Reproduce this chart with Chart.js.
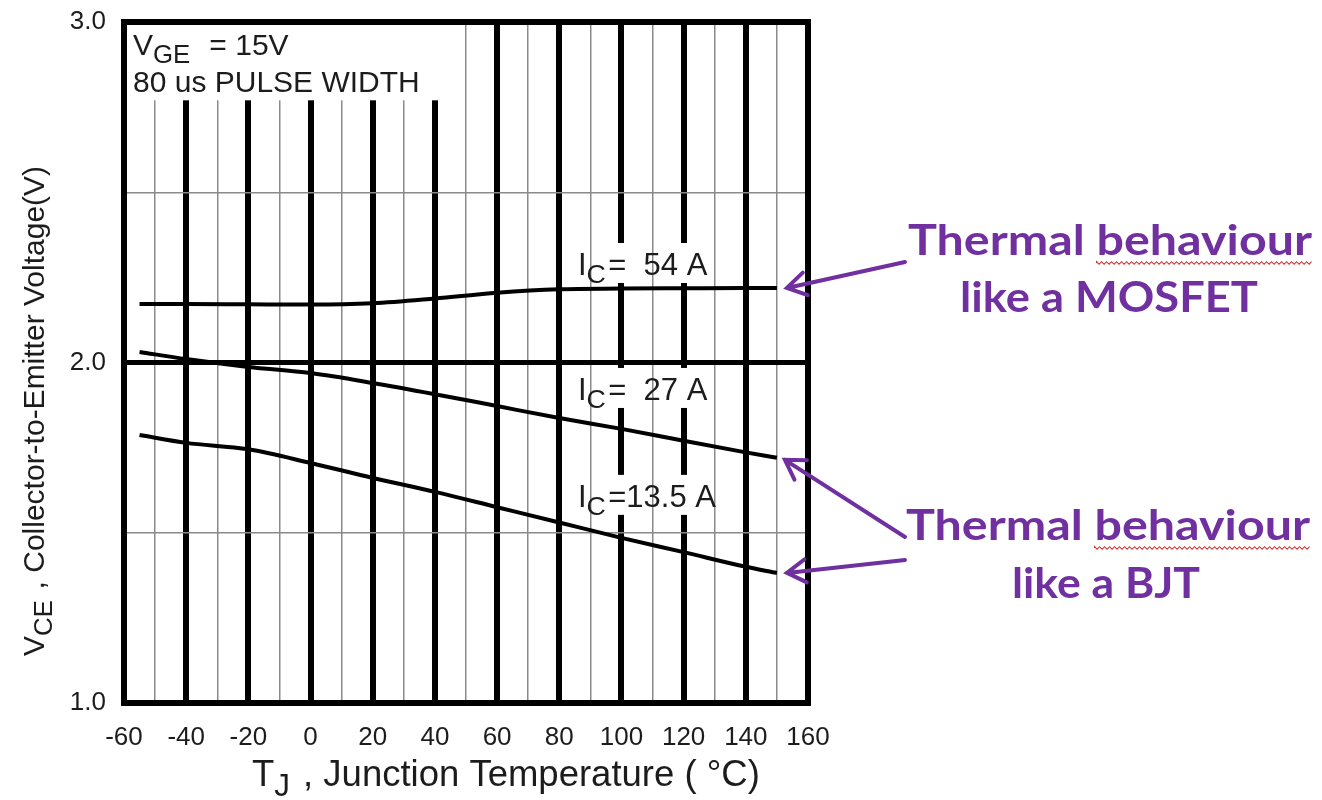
<!DOCTYPE html>
<html>
<head>
<meta charset="utf-8">
<script src="https://cdn.jsdelivr.net/npm/chart.js@4.4.1/dist/chart.umd.min.js"></script>
<style>
	html, body { margin: 0; padding: 0; background: #fff; }
	#wrap { width: 1322px; height: 800px; }
</style>
</head>
<body>
<div id="wrap"><canvas id="vce-chart" width="1322" height="800"></canvas></div>
<script>
// Junction temperature (°C) at which the curves were read
const temps = [ -55, -40, -20, 0, 20, 40, 60, 80, 100, 120, 140, 150 ];

// VCE (V) for each collector current
const vce54A = [ 2.172, 2.172, 2.171, 2.170, 2.174, 2.188, 2.205, 2.215, 2.217, 2.218, 2.219, 2.219 ];
const vce27A = [ 2.031, 2.010, 1.987, 1.969, 1.940, 1.907, 1.872, 1.837, 1.805, 1.770, 1.736, 1.720 ];
const vce13A = [ 1.787, 1.764, 1.745, 1.705, 1.661, 1.620, 1.575, 1.530, 1.485, 1.443, 1.400, 1.382 ];

const seriesNames = [ 'IC = 54 A', 'IC = 27 A', 'IC = 13.5 A' ];
const curveTexts = [ '=  54 A', '=  27 A', '=13.5 A' ];

// axis ranges / tick labels
const xRange = [ -60, 160 ];
const yRange = [ 1.0, 3.0 ];
const xLabelStep = 20;
const yLabelStep = 1;

const sans = '"Liberation Sans", Arial, Helvetica, sans-serif';
const purple = '#7030a0';
const ink = '#1c1c1c';

// ── helpers ──────────────────────────────────────────────

const toPoints = ( values ) => temps.map( ( t, i ) => ( { x: t, y: values[ i ] } ) );

// text with a subscript part: parts = [ { t, sub } ]
const drawRich = ( ctx, parts, x, y, size ) => {
	let cx = x;
	parts.forEach( ( p ) => {
		const s = p.sub ? size * 0.86 : size;
		ctx.font = `${ s }px ${ sans }`;
		ctx.fillText( p.t, cx, y + ( p.sub ? size * 0.27 : 0 ) );
		cx += ctx.measureText( p.t ).width + ( p.sub ? size * 0.08 : 0 );
	} );
	return cx - x;
};

const arrow = ( ctx, x0, y0, x1, y1 ) => {
	const ang = Math.atan2( y1 - y0, x1 - x0 );
	const head = 22;
	ctx.beginPath();
	ctx.moveTo( x0, y0 );
	ctx.lineTo( x1, y1 );
	ctx.moveTo( x1 - head * Math.cos( ang - 0.55 ), y1 - head * Math.sin( ang - 0.55 ) );
	ctx.lineTo( x1, y1 );
	ctx.lineTo( x1 - head * Math.cos( ang + 0.55 ), y1 - head * Math.sin( ang + 0.55 ) );
	ctx.stroke();
};

const wavy = ( ctx, x0, x1, y ) => {
	ctx.beginPath();
	ctx.moveTo( x0, y );
	let up = true;
	for ( let px = x0; px <= x1; px += 2.5 ) {
		ctx.lineTo( px, y + ( up ? -1.3 : 1.3 ) );
		up = ! up;
	}
	ctx.stroke();
};

// ── annotations plugin ───────────────────────────────────

const labelV = [ 2.257, 1.890, 1.576 ];

const annotate = {
	id: 'annotate',
	beforeDatasetsDraw( chart ) {
		const { ctx, chartArea: a, scales: { x, y } } = chart;
		ctx.save();
		ctx.fillStyle = '#fff';

		// box behind the test conditions
		const bx = x.getPixelForValue( 44 );
		const by = y.getPixelForValue( 2.77 );
		ctx.fillRect( a.left + 3, a.top + 3, bx - a.left - 3, by - a.top - 3 );

		// breaks in the heavy lines behind the curve labels
		labelV.forEach( ( v ) => {
			const base = y.getPixelForValue( v );
			[ 100, 120 ].forEach( ( t ) => {
				const px = x.getPixelForValue( t );
				ctx.fillRect( px - 5, base - 32, 10, 40 );
			} );
		} );

		ctx.lineWidth = 6;
		ctx.strokeStyle = '#000';
		ctx.strokeRect( a.left, a.top, a.width, a.height );
		ctx.restore();
	},
	afterDraw( chart ) {
		const { ctx, scales: { x, y } } = chart;
		ctx.save();
		ctx.fillStyle = ink;
		ctx.textBaseline = 'alphabetic';
		ctx.textAlign = 'left';

		// test conditions
		drawRich( ctx, [ { t: 'V' }, { t: 'GE', sub: true }, { t: '  = 15V' } ], 133, 55, 30 );
		ctx.font = `30px ${ sans }`;
		ctx.fillText( '80 us PULSE WIDTH', 133, 92 );

		// curve labels
		labelV.forEach( ( v, i ) => {
			drawRich( ctx, [ { t: 'I' }, { t: 'C', sub: true }, { t: curveTexts[ i ] } ],
				x.getPixelForValue( 86 ), y.getPixelForValue( v ), 31 );
		} );

		// axis titles
		drawRich( ctx, [ { t: 'T' }, { t: 'J', sub: true }, { t: ' , Junction Temperature ( °C)' } ], 252, 786, 36.5 );
		ctx.save();
		ctx.translate( 44, 656 );
		ctx.rotate( -Math.PI / 2 );
		drawRich( ctx, [ { t: 'V' }, { t: 'CE', sub: true }, { t: ' , Collector-to-Emitter Voltage(V)' } ], 0, 0, 30 );
		ctx.restore();

		// purple call-outs, stretched a little to the width of the original lettering
		ctx.fillStyle = purple;
		ctx.textAlign = 'center';
		ctx.font = 'bold 42px Lato, "Open Sans", sans-serif';
		const lines = [
			[ 'Thermal behaviour', 1110, 255, 404 ],
			[ 'like a MOSFET', 1109, 312, 298 ],
			[ 'Thermal behaviour', 1108, 540, 404 ],
			[ 'like a BJT', 1106, 598, 188 ],
		];
		lines.forEach( ( [ txt, cx, cy, w ] ) => {
			const sx = w / ctx.measureText( txt ).width;
			ctx.save();
			ctx.translate( cx, cy );
			ctx.scale( sx, 1 );
			ctx.fillText( txt, 0, 0 );
			ctx.restore();
		} );

		// spell-check squiggle under "behaviour"
		ctx.strokeStyle = '#d03030';
		ctx.lineWidth = 1.1;
		[ lines[ 0 ], lines[ 2 ] ].forEach( ( [ txt, cx, cy, w ] ) => {
			const sx = w / ctx.measureText( txt ).width;
			const word = ctx.measureText( 'behaviour' ).width * sx;
			const x1 = cx + w / 2;
			wavy( ctx, x1 - word, x1 + 2, cy + 8 );
		} );

		// arrows to the curve ends
		ctx.strokeStyle = purple;
		ctx.lineWidth = 4;
		ctx.lineCap = 'round';
		const endX = x.getPixelForValue( temps[ temps.length - 1 ] ) + 10;
		arrow( ctx, 905, 262, endX, y.getPixelForValue( vce54A[ vce54A.length - 1 ] ) );
		arrow( ctx, 905, 537, endX - 2, y.getPixelForValue( vce27A[ vce27A.length - 1 ] ) + 2 );
		arrow( ctx, 905, 560, endX, y.getPixelForValue( vce13A[ vce13A.length - 1 ] ) );
		ctx.restore();
	},
};

// ── chart ────────────────────────────────────────────────

const lineStyle = {
	borderColor: '#000',
	borderWidth: 4,
	pointRadius: 0,
	cubicInterpolationMode: 'monotone',
	fill: false,
};

new Chart( document.getElementById( 'vce-chart' ), {
	type: 'line',
	data: {
		datasets: [
			{ label: seriesNames[ 0 ], data: toPoints( vce54A ), ...lineStyle },
			{ label: seriesNames[ 1 ], data: toPoints( vce27A ), ...lineStyle },
			{ label: seriesNames[ 2 ], data: toPoints( vce13A ), ...lineStyle },
		],
	},
	options: {
		responsive: false,
		animation: false,
		events: [],
		layout: { padding: { top: 22, right: 514, left: 0, bottom: 0 } },
		plugins: {
			legend: { display: false },
			tooltip: { enabled: false },
		},
		scales: {
			x: {
				type: 'linear',
				min: xRange[ 0 ],
				max: xRange[ 1 ],
				afterFit: ( s ) => { s.height = 97; },
				border: { display: false },
				grid: {
					drawTicks: false,
					color: ( c ) => ( c.tick.value % xLabelStep === 0 ? '#000' : '#8a8a8a' ),
					lineWidth: ( c ) => ( c.tick.value % xLabelStep === 0 ? 6 : 1.5 ),
				},
				ticks: {
					stepSize: 10,
					autoSkip: false,
					maxRotation: 0,
					padding: 19,
					color: ink,
					font: { family: sans, size: 26 },
					callback: ( v ) => ( v % xLabelStep === 0 ? String( v ) : '' ),
				},
			},
			y: {
				min: yRange[ 0 ],
				max: yRange[ 1 ],
				afterFit: ( s ) => {
					s.width = 124;
					s.paddingTop = 0;
					s.paddingBottom = 0;
				},
				border: { display: false },
				grid: {
					drawTicks: false,
					color: ( c ) => ( c.tick.value === 2 ? '#000' : '#8a8a8a' ),
					lineWidth: ( c ) => ( c.tick.value === 2 ? 5 : 1.5 ),
				},
				ticks: {
					stepSize: 0.5,
					padding: 18,
					color: ink,
					font: { family: sans, size: 26 },
					callback: ( v ) => ( Math.abs( v % yLabelStep ) < 1e-9 ? v.toFixed( 1 ) : '' ),
				},
			},
		},
	},
	plugins: [ annotate ],
} );
</script>
</body>
</html>
